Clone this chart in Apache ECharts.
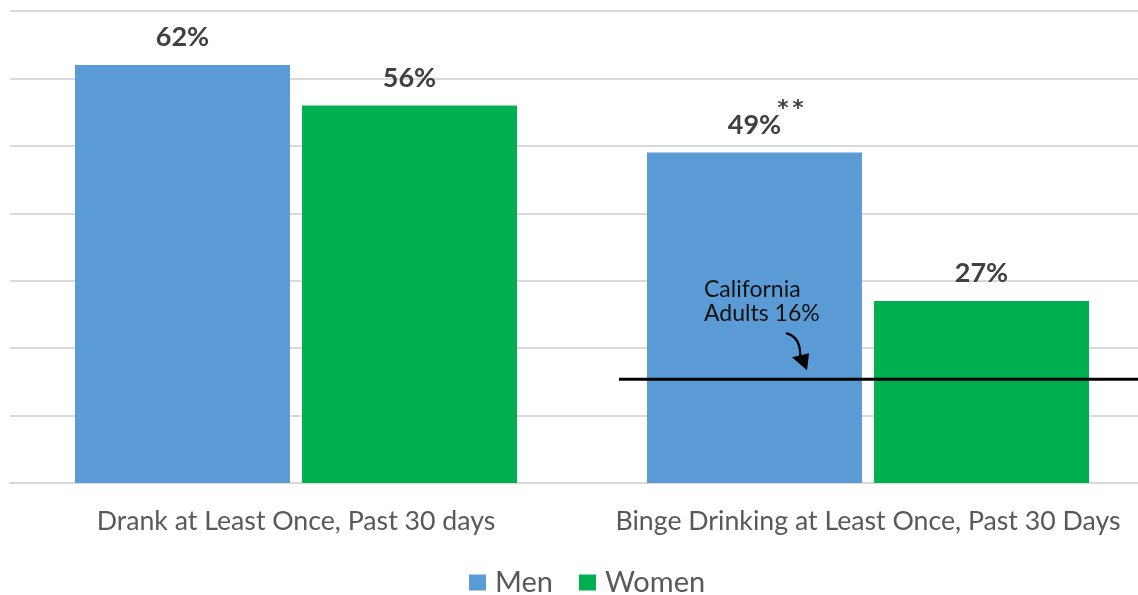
<!DOCTYPE html>
<html><head><meta charset="utf-8">
<script src="https://cdn.jsdelivr.net/npm/echarts@6/dist/echarts.min.js"></script>
<style>html,body{margin:0;padding:0;background:#fff;overflow:hidden}#c{width:1154px;height:595px}</style>
</head><body><div id="c"></div>
<script>
const categories = ['Drank at Least Once, Past 30 days', 'Binge Drinking at Least Once, Past 30 Days'];
const seriesNames = ['Men', 'Women'];
const menValues = [62, 49];
const womenValues = [56, 27];
const menLabels = ['62%', '49%'];
const menNotes = ['', '*\u2009*'];
const womenLabels = ['56%', '27%'];
const californiaAdults = 15.4; // drawn position of the "California Adults 16%" line
const annotationText = 'California\nAdults 16%';
const yMin = 0, yMax = 70, yStep = 10;

const FONT = 'Lato';
const chart = echarts.init(document.getElementById('c'), null, {renderer: 'canvas'});

const option = {
  animation: false,
  textStyle: {fontFamily: FONT},
  grid: {left: 10, right: 0, top: 11, bottom: 112, containLabel: false},
  legend: {
    data: seriesNames, left: 464, top: 563, itemWidth: 17, itemHeight: 16, itemGap: 26,
    icon: 'rect',
    textStyle: {fontFamily: FONT, fontSize: 29, color: '#595959', padding: [0, 0, 0, 4]}
  },
  xAxis: {
    type: 'category', data: categories,
    axisTick: {show: false},
    axisLine: {lineStyle: {color: '#d9d9d9', width: 2}},
    axisLabel: {fontFamily: FONT, fontSize: 26.7, color: '#595959', margin: 25, interval: 0}
  },
  yAxis: {
    type: 'value', min: yMin, max: yMax, interval: yStep,
    axisLabel: {show: false}, axisLine: {show: false}, axisTick: {show: false},
    splitLine: {lineStyle: {color: '#d9d9d9', width: 2}}
  },
  series: [
    {
      name: seriesNames[0], type: 'bar', barWidth: 215, barGap: '5.6%',
      data: menValues,
      itemStyle: {color: '#5B9BD5'},
      label: {
        show: true, position: 'top', distance: 14,
        formatter: p => menNotes[p.dataIndex]
          ? '{sp|}{s|' + menNotes[p.dataIndex] + '}\n{v|' + menLabels[p.dataIndex] + '}'
          : '{v|' + menLabels[p.dataIndex] + '}',
        rich: {
          v: {fontFamily: FONT, fontSize: 27, fontWeight: 'bold', color: '#404040', lineHeight: 27},
          sp: {width: 72, lineHeight: 4},
          s: {fontFamily: 'DejaVu Sans', fontSize: 21, fontWeight: 'bold', color: '#404040', lineHeight: 4, width: 22}
        }
      }
    },
    {
      name: seriesNames[1], type: 'bar', data: womenValues, barWidth: 215,
      itemStyle: {color: '#00B050'},
      label: {
        show: true, position: 'top', distance: 14,
        formatter: p => womenLabels[p.dataIndex],
        fontFamily: FONT, fontSize: 27, fontWeight: 'bold', color: '#404040'
      }
    }
  ]
};
chart.setOption(option);

// California adults reference line and annotation
const yLine = chart.convertToPixel({yAxisIndex: 0}, californiaAdults);
const cat2x = chart.convertToPixel({xAxisIndex: 0}, categories[1]);
const xStart = cat2x - 249;
const ax = cat2x - 82, ay = yLine - 46;
chart.setOption({
  graphic: [
    {type: 'line', shape: {x1: xStart, y1: yLine, x2: 1154, y2: yLine}, style: {stroke: '#000', lineWidth: 3}, z: 100},
    {type: 'text', left: cat2x - 164, top: yLine - 102, style: {text: annotationText, fontFamily: FONT, fontSize: 23, fill: '#111', lineHeight: 24}, z: 100},
    {type: 'bezierCurve', shape: {x1: ax, y1: ay, cpx1: ax + 12, cpy1: ay + 3, cpx2: ax + 15, cpy2: ay + 14, x2: ax + 14, y2: ay + 26}, style: {stroke: '#000', lineWidth: 2.2, fill: null}, z: 100},
    {type: 'polygon', shape: {points: [[ax + 6, ay + 24], [ax + 23, ay + 20], [ax + 21, ay + 37]]}, style: {fill: '#000'}, z: 100}
  ]
});
</script></body></html>
